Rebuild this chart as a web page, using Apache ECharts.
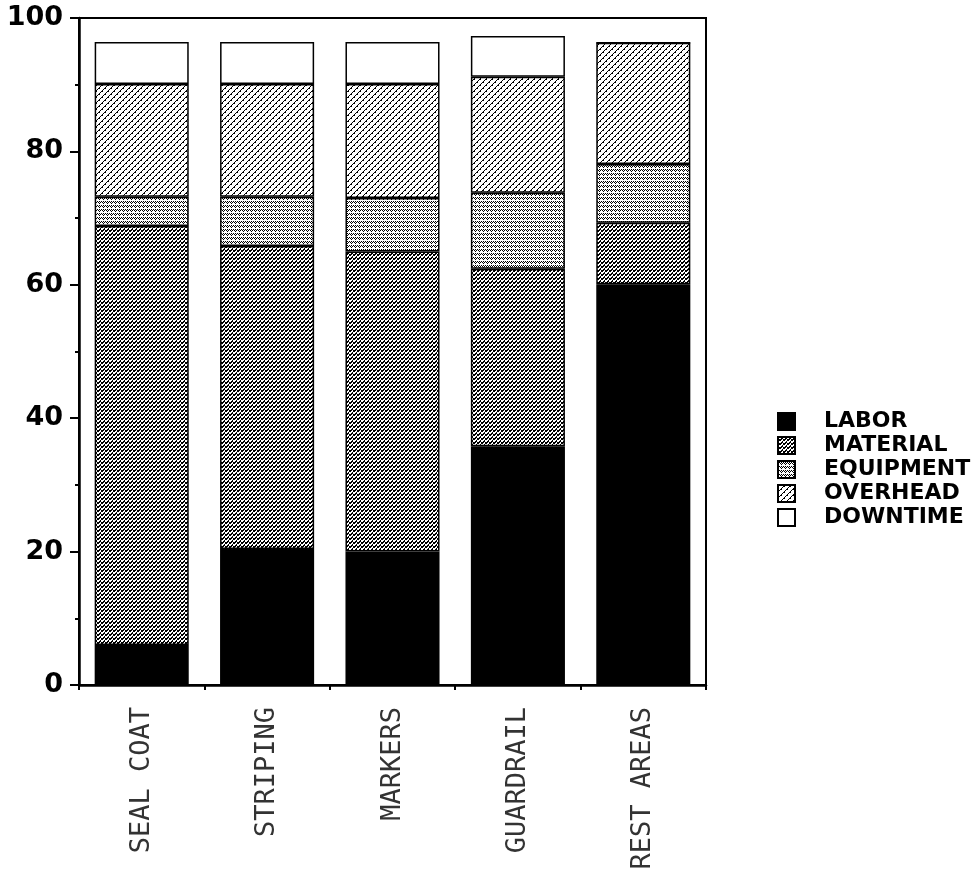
<!DOCTYPE html>
<html><head><meta charset="utf-8">
<script src="https://cdn.jsdelivr.net/npm/echarts@6/dist/echarts.min.js"></script>
<style>html,body{margin:0;padding:0;background:#fff}#c{width:979px;height:879px}</style>
</head><body><div id="c"></div>
<script>
const categories = ['SEAL COAT', 'STRIPING', 'MARKERS', 'GUARDRAIL', 'REST AREAS'];
const labor     = [6, 20.4, 20, 35.8, 60.1];
const material  = [62.8, 45.4, 45, 26.6, 9.2];
const equipment = [4.4, 7.4, 8, 11.4, 8.8];
const overhead  = [16.9, 16.9, 17.1, 17.4, 18.2];
const downtime  = [6.3, 6.3, 6.3, 6.1, 0];
const yTicks = [0, 20, 40, 60, 80, 100];
const seriesNames = ['LABOR', 'MATERIAL', 'EQUIPMENT', 'OVERHEAD', 'DOWNTIME'];

function makePattern(size, fn) {
  const c = document.createElement('canvas');
  c.width = size; c.height = size;
  const ctx = c.getContext('2d');
  ctx.fillStyle = '#fff'; ctx.fillRect(0, 0, size, size);
  ctx.fillStyle = '#000';
  for (let y = 0; y < size; y++) for (let x = 0; x < size; x++) if (fn(x, y)) ctx.fillRect(x, y, 1, 1);
  return { image: c, repeat: 'repeat' };
}
const patMaterial = makePattern(8, (x, y) => ((x + y) % 4 === 0) || ((x + y) % 4 === 1 && x % 2 === 0) || (y % 4 === 2 && x % 2 === 1));
const patEquip = makePattern(4, (x, y) => ((x + y) % 2 === 0) && !(x % 2 === 0 && y % 4 === 0) && !(x === 1 && y === 3));
const patOver = makePattern(12, (x, y) => ((x + y) % 6 === 0) || ((x + y) % 6 === 1 && x % 3 === 0));

const colors = ['#000', patMaterial, patEquip, patOver, '#fff'];
const dataSets = [labor, material, equipment, overhead, downtime];

const series = seriesNames.map((n, i) => ({
  name: n, type: 'bar', stack: 'total', barCategoryGap: '25%',
  data: dataSets[i],
  itemStyle: { color: colors[i], borderColor: '#000', borderWidth: 1.5 },
  emphasis: { disabled: true }
}));

const chart = echarts.init(document.getElementById('c'), null, { renderer: 'canvas' });
chart.setOption({
  animation: false,
  backgroundColor: '#fff',
  grid: { left: 79, right: 273, top: 18, bottom: 194, show: true, borderColor: '#000', borderWidth: 2 },
  legend: {
    orient: 'vertical', left: 772, top: 405, itemWidth: 17, itemHeight: 17, itemGap: 1,
    icon: 'rect', selectedMode: false,
    textStyle: { fontFamily: 'DejaVu Sans', fontWeight: 'bold', fontSize: 22, lineHeight: 23, color: '#000', padding: [0, 0, 0, 24] },
    data: seriesNames
  },
  xAxis: {
    type: 'category', data: categories,
    axisLine: { lineStyle: { color: '#000', width: 2.5 } },
    axisTick: { show: true, alignWithLabel: false, length: 5, lineStyle: { color: '#000', width: 2 } },
    axisLabel: { rotate: 90, margin: 22, fontFamily: 'DejaVu Sans Mono', fontSize: 27, color: '#333' }
  },
  yAxis: {
    type: 'value', min: yTicks[0], max: yTicks[yTicks.length - 1], interval: 20,
    axisLine: { show: true, lineStyle: { color: '#000', width: 2.5 } },
    axisTick: { show: true, length: 9, lineStyle: { color: '#000', width: 2 } },
    minorTick: { show: true, splitNumber: 2, length: 4, lineStyle: { color: '#000', width: 2 } },
    splitLine: { show: false },
    axisLabel: { margin: 16, fontFamily: 'DejaVu Sans', fontWeight: 'bold', fontSize: 27, color: '#000' }
  },
  series: series
});
</script></body></html>
